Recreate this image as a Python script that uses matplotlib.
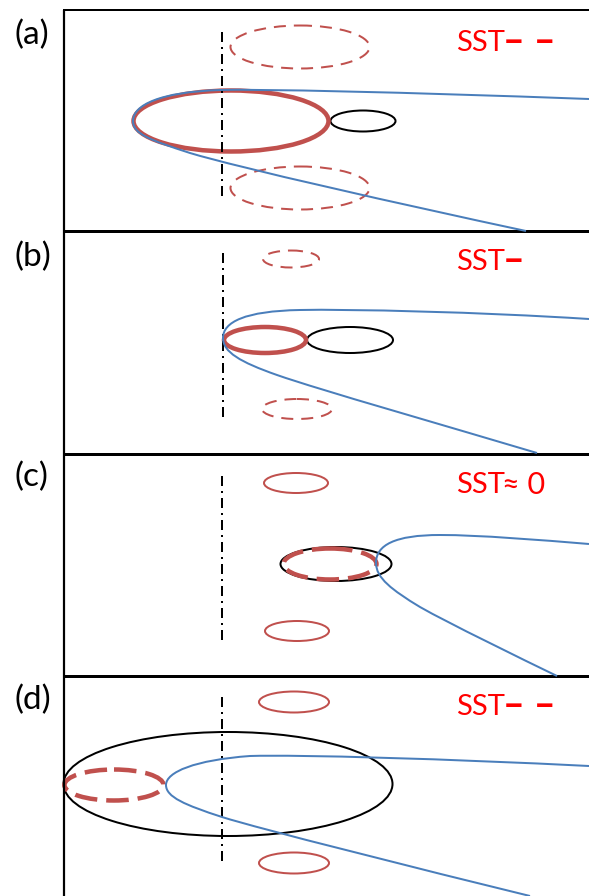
import matplotlib
matplotlib.use('Agg')
import matplotlib.pyplot as plt
from matplotlib.patches import Ellipse, PathPatch
from matplotlib.path import Path

plt.rcParams['font.family'] = ['Lato', 'DejaVu Sans']

# panel labels and SST annotation text
panel_labels = ['(a)', '(b)', '(c)', '(d)']
sst_signs = ['\u2013 \u2013', '\u2013', '\u2248 0', '\u2013 \u2013']
label_y = [35, 257, 477, 700]
sst_y = [43, 262, 485, 707]

# panel frames (pixel units of the original drawing)
frame_left = 64
frame_tops = [10, 231, 454, 676]
frame_bottom = 896

# dash-dot centre line of each panel: x, y start, y end
axis_x = [222, 223, 222, 222]
axis_y0 = [32, 253, 476, 697]
axis_y1 = [198, 420, 643, 863]

# ellipses as (cx, cy, width, height)
thin_dashed_red = [(300, 47, 139, 43), (300, 188, 139, 43),
                   (291, 259, 56, 17), (297, 409, 70, 20)]
thin_solid_red = [(296, 483, 64, 20), (297, 631, 64, 20),
                  (294, 702, 70, 21), (294, 863, 70, 21)]
thick_solid_red = [(231, 121, 195, 61), (265, 340, 82, 26)]
thick_dashed_red = [(330, 564, 93, 31), (114, 785, 99, 31)]
black_rings = [(363, 121, 65, 21), (350, 340, 86, 26),
               (336, 564, 111, 34), (228, 784, 329, 104)]

# blue curves: two cubic bezier pieces per branch, starting at the vertex
front_a_upper = [(133, 121), (133, 105), (160, 92), (220, 90), (260, 89), (400, 92), (589, 99)]
front_a_lower = [(133, 121), (133, 134), (150, 140), (190, 153), (240, 168), (400, 204), (526, 231)]
front_b_upper = [(223, 338), (223, 322), (245, 311), (300, 310), (350, 309), (480, 312), (589, 319)]
front_b_lower = [(223, 338), (223, 352), (240, 362), (277, 375), (320, 390), (450, 427), (537, 453)]
front_c_upper = [(376, 563), (376, 545), (395, 535), (440, 535), (480, 535), (540, 540), (589, 544)]
front_c_lower = [(376, 563), (376, 578), (392, 590), (420, 607), (450, 624), (520, 658), (557, 676)]
front_d_upper = [(166, 785), (166, 772), (195, 760), (250, 756), (300, 754.5), (450, 759), (589, 766)]
front_d_lower = [(166, 785), (166, 797), (185, 805), (222, 817), (260, 829), (420, 869), (530, 896)]

red = '#C0504D'
blue = '#4A7EBB'
px = 0.72  # points per pixel at dpi 100

fig = plt.figure(figsize=(5.89, 8.96), dpi=100)
ax = fig.add_axes([0, 0, 1, 1])
ax.set_xlim(0, 589)
ax.set_ylim(896, 0)
ax.axis('off')

# frames
for i, top in enumerate(frame_tops):
    lw = 2 * px if i == 0 else 3 * px
    ax.plot([frame_left - 1, 589], [top, top], color='black', lw=lw, solid_capstyle='butt')
ax.plot([frame_left, frame_left], [frame_tops[0], frame_bottom], color='black', lw=2.2 * px,
        solid_capstyle='butt')

# dash-dot lines
for x, y0, y1 in zip(axis_x, axis_y0, axis_y1):
    ax.plot([x, x], [y0, y1], color='black', lw=2 * px, linestyle=(0, (5, 2.5, 1, 2.5)))


def add_ell(spec, color, lw, ls='-'):
    cx, cy, w, h = spec
    ax.add_patch(Ellipse((cx, cy), w, h, fill=False, edgecolor=color, lw=lw, linestyle=ls))


for e in thin_dashed_red:
    add_ell(e, red, 2 * px, (0, (6, 4)))
for e in thin_solid_red:
    add_ell(e, red, 2 * px)
for e in black_rings:
    add_ell(e, 'black', 2 * px)
for e in thick_solid_red:
    add_ell(e, red, 4.5 * px)
for e in thick_dashed_red:
    add_ell(e, red, 4.5 * px, (0, (5, 2)))

# blue curves on top of the ellipses
codes = [Path.MOVETO] + [Path.CURVE4] * 6
for branch in [front_a_upper, front_a_lower, front_b_upper, front_b_lower,
               front_c_upper, front_c_lower, front_d_upper, front_d_lower]:
    ax.add_patch(PathPatch(Path(branch, codes), fill=False, edgecolor=blue, lw=2 * px,
                           zorder=3))

# text
for lab, y in zip(panel_labels, label_y):
    ax.text(15, y, lab, fontsize=24, va='center', ha='left', color='black')
for sign, y in zip(sst_signs, sst_y):
    ax.text(456, y, 'SST', fontsize=21, va='center', ha='left', color='#FF0000')
    if '0' in sign:
        ax.text(502, y, sign, fontsize=22, va='center', ha='left', color='#FF0000')
    else:
        ax.text(503, y - 1, sign, fontsize=27, va='center', ha='left', color='#FF0000',
                fontweight='bold')

fig.savefig('out.png', dpi=100)
